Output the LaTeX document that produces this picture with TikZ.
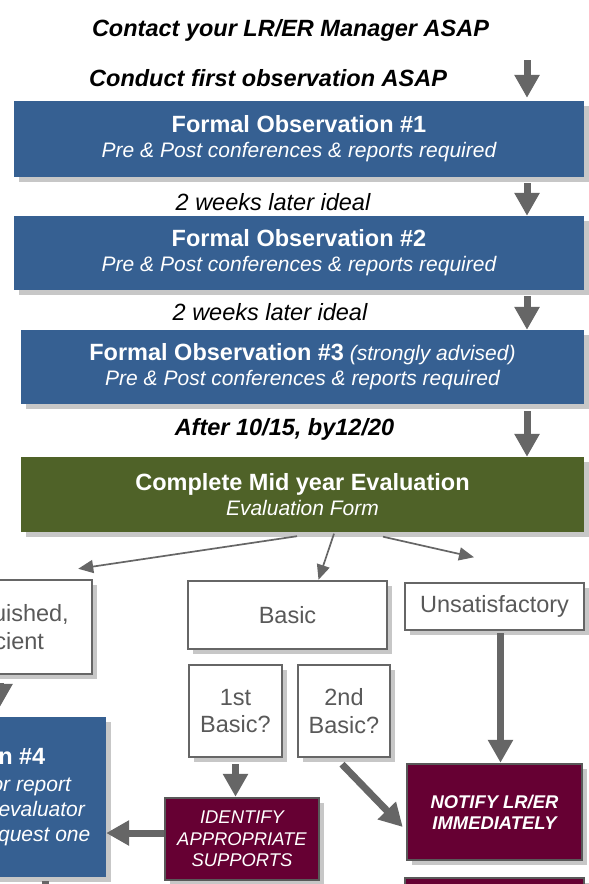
\documentclass[tikz,border=0pt]{standalone}
\usepackage{fontspec}
\setmainfont{Liberation Sans}
\usetikzlibrary{arrows.meta,shadows}
\definecolor{obsblue}{HTML}{366092}
\definecolor{evalgreen}{HTML}{4F6228}
\definecolor{alertred}{HTML}{660033}
\definecolor{arrgray}{HTML}{666666}
\definecolor{txtgray}{HTML}{595959}
\newcommand{\hd}[1]{{\bfseries\fontsize{23.5}{25}\selectfont #1}}

\begin{document}
\begin{tikzpicture}[x=1pt, y=-1pt,
    sh/.style={drop shadow={shadow xshift=5pt, shadow yshift=-5pt, fill=black!22, opacity=1}},
    obs/.style={sh, fill=obsblue, text=white, align=center, inner sep=0pt,
                font=\fontsize{21}{25}\selectfont},
    opt/.style={sh, draw=arrgray, line width=2.5pt, fill=white, text=txtgray, align=center,
                inner sep=0pt, font=\fontsize{23.5}{27.5}\selectfont},
    act/.style={sh, draw=txtgray, line width=2.5pt, fill=alertred, text=white, align=center,
                inner sep=0pt, font=\fontsize{18.4}{21.5}\selectfont\itshape},
    lbl/.style={anchor=base, inner sep=0pt, font=\fontsize{23.5}{26}\selectfont\bfseries\itshape},
    gap/.style={anchor=base, inner sep=0pt, font=\fontsize{23.5}{26}\selectfont\itshape},
    fat/.style={draw=arrgray, line width=7pt, -{Triangle[width=24pt,length=23pt]}},
    thn/.style={draw=arrgray, line width=1.7pt, -{Triangle[width=13pt,length=15pt]}}
  ]
  \useasboundingbox (0,0) rectangle (589,884);
  \fill[white] (0,0) rectangle (589,884);
  \clip (0,0) rectangle (589,884);

  % observation sequence
  \node[lbl] (contact) at (290.5,36) {Contact your LR/ER Manager ASAP};
  \node[lbl, anchor=base west] (start) at (89,86) {Conduct first observation ASAP};
  \node[obs, minimum width=570pt, minimum height=76pt] (obs1) at (299,139)
    {\hd{Formal Observation \#1}\\ {\itshape Pre \& Post conferences \& reports required}};
  \node[gap] (wait1) at (273,210) {2 weeks later ideal};
  \node[obs, minimum width=570pt, minimum height=74pt] (obs2) at (299,253)
    {\hd{Formal Observation \#2}\\ {\itshape Pre \& Post conferences \& reports required}};
  \node[gap] (wait2) at (270,320) {2 weeks later ideal};
  \node[obs, minimum width=563pt, minimum height=74pt] (obs3) at (302.5,367)
    {\hd{Formal Observation \#3} {\itshape (strongly advised)}\\ {\itshape Pre \& Post conferences \& reports required}};
  \node[lbl] (due) at (284.5,435) {After 10/15, by12/20};
  \node[obs, fill=evalgreen, minimum width=563pt, minimum height=75pt] (eval) at (302.5,494.5)
    {\hd{Complete Mid year Evaluation}\\ {\itshape Evaluation Form}};

  % ratings
  \node[opt, minimum width=194pt, minimum height=94pt] (dist) at (-5,627) {Distinguished,\\Proficient};
  \node[opt, minimum width=199pt, minimum height=68pt] (basic) at (287.5,615) {Basic};
  \node[opt, minimum width=179pt, minimum height=47pt] (unsat) at (494.5,606.5) {Unsatisfactory};
  \node[opt, minimum width=93pt, minimum height=92pt] (basic1) at (235.5,711) {1st\\Basic?};
  \node[opt, minimum width=92pt, minimum height=92pt] (basic2) at (344,711) {2nd\\Basic?};

  % follow-up
  \node[obs, minimum width=376pt, minimum height=160pt] (obs4) at (-82,797)
    {\hd{Formal Observation \#4}\\[2pt] {\itshape Pre \& Post conferences or report}\\
     {\itshape as needed if requested by evaluator}\\ {\itshape Teachers may choose to request one}};
  \node[act, minimum width=154pt, minimum height=82pt] (supp) at (242,839) {IDENTIFY\\APPROPRIATE\\SUPPORTS};
  \node[act, font=\fontsize{18.4}{21}\selectfont\bfseries\itshape, minimum width=175pt, minimum height=96pt]
    (notify) at (494.5,812) {NOTIFY LR/ER\\IMMEDIATELY};
  \node[act, minimum width=179pt, minimum height=80pt] (next) at (494.5,918) {};

  % connectors
  \coordinate (col) at (527,60);
  \coordinate (lcol) at (0,0);
  \coordinate (stub) at (45,930);
  \draw[fat] (col) -- ([yshift=3pt]obs1.north -| col);
  \draw[fat] ([yshift=-6pt]obs1.south -| col) -- (obs2.north -| col);
  \draw[fat] ([yshift=-6pt]obs2.south -| col) -- (obs3.north -| col);
  \draw[fat] ([yshift=-7pt]obs3.south -| col) -- (eval.north -| col);
  \draw[thn] ([xshift=-5.5pt,yshift=-4pt]eval.south) -- ([xshift=-15pt,yshift=10pt]dist.north east);
  \draw[thn] ([xshift=31.5pt,yshift=-1.5pt]eval.south) -- ([xshift=31pt]basic.north);
  \draw[thn] ([xshift=80.5pt,yshift=-4.5pt]eval.south) -- ([xshift=-20.5pt,yshift=24.5pt]unsat.north);
  \draw[fat] ([yshift=-8pt]dist.south -| lcol) -- ([yshift=10pt]obs4.north -| lcol);
  \draw[fat] ([xshift=6pt,yshift=-2pt]unsat.south) -- ([xshift=6pt]notify.north);
  \draw[fat] ([yshift=-6pt]basic1.south) -- (basic1.south |- supp.north);
  \draw[fat] ([xshift=-2pt,yshift=-6pt]basic2.south) -- ([xshift=-3pt,yshift=-15pt]notify.west);
  \draw[fat] ([yshift=6pt]supp.west) -- ([yshift=6pt]supp.west -| obs4.east);
  \draw[draw=arrgray, line width=7pt] ([yshift=-4pt]obs4.south -| stub) -- (stub);
\end{tikzpicture}
\end{document}
